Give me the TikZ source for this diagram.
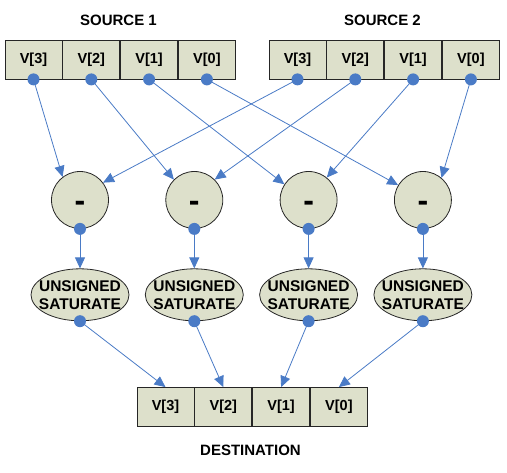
\documentclass[tikz,border=0pt]{standalone}
\usepackage{fontspec}
\setmainfont{Liberation Sans}
\usetikzlibrary{arrows.meta,positioning,shapes.geometric}
\definecolor{cellfill}{HTML}{DDE0CB}
\definecolor{linkblue}{HTML}{4A7BC6}

\begin{document}
\begin{tikzpicture}[x=1pt,y=-1pt,
	cell/.style={rectangle,draw=black!85,line width=0.8pt,fill=cellfill,minimum width=57pt,minimum height=39pt,inner sep=0pt,font=\fontsize{14.5}{16}\selectfont\bfseries},
	subnode/.style={circle,draw=black!85,line width=0.8pt,fill=cellfill,minimum size=57pt,inner sep=0pt,font=\fontsize{32}{32}\selectfont\bfseries,text height=24pt,text depth=0pt},
	satnode/.style={ellipse,draw=black!85,line width=0.8pt,fill=cellfill,minimum width=98pt,minimum height=52pt,inner xsep=-8pt,inner ysep=0pt,align=center,font=\fontsize{15.5}{18}\selectfont\bfseries},
	title/.style={font=\fontsize{15}{18}\selectfont\bfseries},
	dot/.style={circle,fill=linkblue,minimum size=12pt,inner sep=0pt},
	link/.style={linkblue,line width=0.8pt,-{Triangle[length=11pt,width=10pt]}}]

	\useasboundingbox (0,0) rectangle (507,473);

	\begin{scope}
		% source registers
		\node[title] (src1) at (118.5,20) {SOURCE 1};
		\node[title] (src2) at (382.5,20) {SOURCE 2};
		\node[cell] (a3) at (33.5,59.5) {V[3]};
		\node[cell,right=0pt of a3] (a2) {V[2]};
		\node[cell,right=0pt of a2] (a1) {V[1]};
		\node[cell,right=0pt of a1] (a0) {V[0]};
		\node[cell] (b3) at (297.5,59.5) {V[3]};
		\node[cell,right=0pt of b3] (b2) {V[2]};
		\node[cell,right=0pt of b2] (b1) {V[1]};
		\node[cell,right=0pt of b1] (b0) {V[0]};

		% subtract and saturate
		\node[subnode] (c1) at (80,200) {-};
		\node[subnode,right=56.5pt of c1] (c2) {-};
		\node[subnode,right=56.5pt of c2] (c3) {-};
		\node[subnode,right=56.5pt of c3] (c4) {-};
		\node[satnode,below=39.5pt of c1] (s1) {UNSIGNED\\SATURATE};
		\node[satnode,below=39.5pt of c2] (s2) {UNSIGNED\\SATURATE};
		\node[satnode,below=39.5pt of c3] (s3) {UNSIGNED\\SATURATE};
		\node[satnode,below=39.5pt of c4] (s4) {UNSIGNED\\SATURATE};

		% destination register
		\node[cell] (d3) at (165.5,407) {V[3]};
		\node[cell,right=0pt of d3] (d2) {V[2]};
		\node[cell,right=0pt of d2] (d1) {V[1]};
		\node[cell,right=0pt of d1] (d0) {V[0]};
		\node[title] (dst) at (250.5,450) {DESTINATION};
	\end{scope}

	\begin{scope}
		\draw[link] (a3.south) -- (c1.127);
		\draw[link] (b3.south) -- (c1.37);
		\draw[link] (a2.south) -- (c2.135);
		\draw[link] (b2.south) -- (c2.45);
		\draw[link] (a1.south) -- (c3.147);
		\draw[link] (b1.south) -- (c3.51);
		\draw[link] (a0.south) -- (c4.149);
		\draw[link] (b0.south) -- (c4.50);
		\draw[link] (c1.south) -- (s1.north);
		\draw[link] (c2.south) -- (s2.north);
		\draw[link] (c3.south) -- (s3.north);
		\draw[link] (c4.south) -- (s4.north);
		\draw[link] (s1.south) -- (d3.north);
		\draw[link] (s2.south) -- (d2.north);
		\draw[link] (s3.south) -- (d1.north);
		\draw[link] (s4.south) -- (d0.north);
	\end{scope}

	\begin{scope}
		\node[dot] (a3dot) at (a3.south) {};
		\node[dot] (a2dot) at (a2.south) {};
		\node[dot] (a1dot) at (a1.south) {};
		\node[dot] (a0dot) at (a0.south) {};
		\node[dot] (b3dot) at (b3.south) {};
		\node[dot] (b2dot) at (b2.south) {};
		\node[dot] (b1dot) at (b1.south) {};
		\node[dot] (b0dot) at (b0.south) {};
		\node[dot] (c1dot) at (c1.south) {};
		\node[dot] (c2dot) at (c2.south) {};
		\node[dot] (c3dot) at (c3.south) {};
		\node[dot] (c4dot) at (c4.south) {};
		\node[dot] (s1dot) at (s1.south) {};
		\node[dot] (s2dot) at (s2.south) {};
		\node[dot] (s3dot) at (s3.south) {};
		\node[dot] (s4dot) at (s4.south) {};
	\end{scope}
\end{tikzpicture}
\end{document}
